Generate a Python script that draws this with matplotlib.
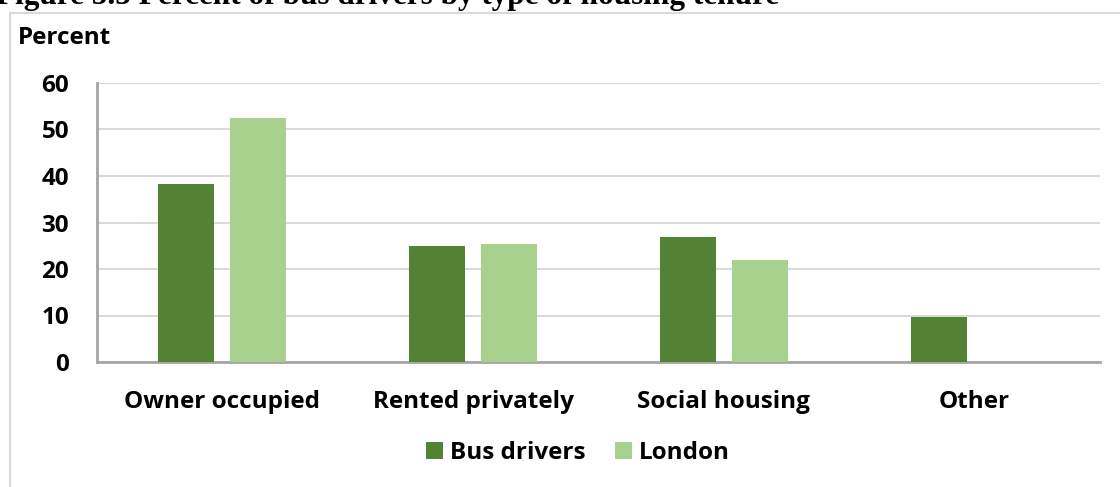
import numpy as np
import matplotlib.pyplot as plt
from matplotlib.patches import Rectangle

categories = ["Owner occupied", "Rented privately", "Social housing", "Other"]
bus_drivers = [38.3, 24.9, 26.9, 9.6]
london = [52.5, 25.4, 21.9, 0]
series_names = ["Bus drivers", "London"]
yticks = [0, 10, 20, 30, 40, 50, 60]

dark = "#548235"
light = "#A9D18E"
fs = 17.5

plt.rcParams['font.family'] = ['Open Sans', 'DejaVu Sans']

fig = plt.figure(figsize=(11.2, 4.87), dpi=100)

# frame round the chart area
fig.patches.append(Rectangle((10 / 1120, -0.1), 1.2, 1 - 13 / 487 + 0.1,
                             transform=fig.transFigure, fill=False,
                             edgecolor="#d9d9d9", linewidth=1.5))

# title, cut off at the top of the picture as in the source
fig.text(-0.004, 1 - 4 / 487, "Figure 5.5 Percent of bus drivers by type of housing tenure",
         fontsize=22.5, fontweight="bold", family="Liberation Serif",
         ha="left", va="baseline")

ax = fig.add_axes([97 / 1120, 1 - 362 / 487, (1100 - 97) / 1120, (362 - 83) / 487])

x = np.arange(len(categories))
w = 0.223
off = 0.1436
ax.bar(x - off, bus_drivers, w, color=dark, label=series_names[0], zorder=3)
ax.bar(x + off, london, w, color=light, label=series_names[1], zorder=3)

ax.set_xlim(-0.5, len(categories) - 0.5)
ax.set_ylim(0, 60)
ax.set_yticks(yticks)
ax.set_yticklabels([str(t) for t in yticks], fontsize=fs, fontweight="bold")
ax.set_xticks(x)
ax.set_xticklabels(categories, fontsize=fs, fontweight="bold")
ax.tick_params(axis="y", length=0, pad=20)
ax.tick_params(axis="x", length=0, pad=20)
ax.grid(axis="y", color="#d9d9d9", linewidth=1.5, zorder=0)

for s in ["top", "right"]:
    ax.spines[s].set_visible(False)
ax.spines["left"].set_color("#a6a6a6")
ax.spines["bottom"].set_color("#a6a6a6")
ax.spines["left"].set_linewidth(2)
ax.spines["bottom"].set_linewidth(2)

fig.text(18 / 1120, 1 - 38 / 487, "Percent", fontsize=fs, fontweight="bold",
         ha="left", va="center")

fig.legend(loc="center", bbox_to_anchor=(578 / 1120, 1 - 453 / 487), ncol=2,
           frameon=False, prop={"size": fs, "weight": "bold"},
           handlelength=0.7, handleheight=0.7, handletextpad=0.3, columnspacing=1.2)

fig.savefig("out.png", dpi=100)
